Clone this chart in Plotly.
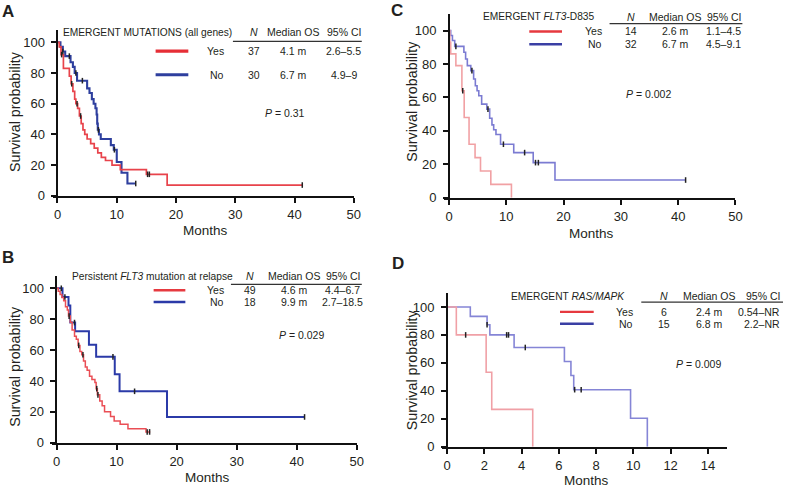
import plotly.graph_objects as go

W, H = 792, 496

# ---------------- data ----------------
# Panel A: EMERGENT MUTATIONS (all genes)
A_yes_t = [0, 0.3, 0.6, 1.0, 2.0, 2.3, 2.6, 2.9, 3.1, 3.4, 3.7, 4.0, 4.3, 4.6, 5.0, 5.6, 6.2, 6.8, 7.4, 8.1, 9.2, 10.6, 15.0, 18.5]
A_yes_s = [100, 97, 92, 83, 78, 73, 68, 63, 60, 57, 52, 47, 43, 40, 37, 34, 31, 28, 25, 23, 20, 17, 14, 7]
A_yes_end = 41.3
A_yes_cens = [0.7, 2.4, 3.3, 3.9, 15.2, 15.5, 41.3]
A_no_t = [0, 0.5, 0.9, 1.3, 2.2, 2.6, 2.9, 3.3, 5.0, 5.4, 5.8, 6.1, 6.4, 6.6, 6.7, 6.8, 7.0, 7.3, 9.0, 9.5, 10.0, 10.8, 11.8]
A_no_s = [100, 97, 94, 91, 87, 84, 80, 75, 70, 67, 63, 60, 57, 53, 47, 43, 40, 37, 33, 30, 22, 15, 8]
A_no_end = 13.2
A_no_cens = [0.9, 2.0, 3.1, 4.2, 6.9, 9.6, 13.2]

# Panel B: Persistent FLT3 mutation at relapse
B_yes_t = [0, 0.3, 0.6, 0.9, 1.2, 1.5, 1.8, 2.0, 2.3, 2.6, 3.0, 3.3, 3.6, 3.9, 4.2, 4.5, 4.8, 5.1, 5.5, 5.9, 6.4, 6.6, 6.8, 7.2, 7.6, 8.0, 9.0, 9.6, 10.6, 11.9, 14.9]
B_yes_s = [100, 98, 96, 94, 92, 88, 86, 82, 78, 73, 69, 67, 63, 59, 57, 53, 49, 47, 43, 41, 39, 35, 31, 27, 24, 20, 17, 14, 12, 9, 7]
B_yes_end = 15.6
B_yes_cens = [2.1, 3.7, 4.4, 6.7, 6.9, 15.1, 15.5]
B_no_t = [0, 1.0, 2.0, 2.3, 3.1, 5.4, 6.6, 9.7, 10.5, 18.4]
B_no_s = [100, 94.4, 88.9, 77.8, 72.2, 63.5, 55.6, 44.4, 33.3, 16.7]
B_no_end = 41.3
B_no_cens = [0.8, 1.4, 3.0, 9.4, 13.0, 41.3]

# Panel C: EMERGENT FLT3-D835
C_yes_t = [0, 0.15, 0.3, 1.2, 2.25, 2.65, 3.5, 4.55, 5.5, 7.3, 10.9]
C_yes_s = [100, 93, 86, 79, 64, 48, 32, 24, 16, 8, 0]
C_yes_end = 10.9
C_yes_cens = [2.4]
C_no_t = [0, 0.3, 0.6, 1.0, 2.6, 2.9, 3.2, 3.8, 4.3, 4.6, 4.9, 5.2, 5.7, 6.6, 7.1, 7.5, 7.8, 8.2, 9.0, 11.3, 14.7, 18.5]
C_no_s = [100, 97, 94, 90.5, 87, 83, 79, 76, 71, 67, 64, 61, 56, 53, 47.5, 43.6, 40.7, 37.8, 32, 27, 21, 10.6]
C_no_end = 41.3
C_no_cens = [0, 1.2, 4.0, 6.8, 9.5, 13.2, 15.1, 15.6, 41.3]

# Panel D: EMERGENT RAS/MAPK
D_yes_t = [0, 0.5, 2.1, 2.4, 4.6]
D_yes_s = [100, 80, 53.3, 26.7, 0]
D_yes_end = 4.6
D_yes_cens = [1.0]
D_no_t = [0, 1.25, 2.15, 2.3, 3.6, 6.3, 6.65, 6.8, 9.85, 10.75]
D_no_s = [100, 93.3, 87.3, 80, 71, 61, 51, 40.8, 20.4, 0]
D_no_end = 10.75
D_no_cens = [0, 2.15, 3.2, 3.3, 4.2, 6.85, 7.2]

# legend table texts
A_rows = [["Yes", "37", "4.1 m", "2.6–5.5"], ["No", "30", "6.7 m", "4.9–9"]]
B_rows = [["Yes", "49", "4.6 m", "4.4–6.7"], ["No", "18", "9.9 m", "2.7–18.5"]]
C_rows = [["Yes", "14", "2.6 m", "1.1–4.5"], ["No", "32", "6.7 m", "4.5–9.1"]]
D_rows = [["Yes", "6", "2.4 m", "0.54–NR"], ["No", "15", "6.8 m", "2.2–NR"]]
P_vals = ["0.31", "0.029", "0.002", "0.009"]

FONT = "Liberation Sans, Arial, Helvetica, sans-serif"
TXT = "#231f20"


def px(x):
    return x / W


def py(y):
    return 1 - y / H


def surv_at(ts, ss, t):
    v = ss[0]
    for ti, si in zip(ts, ss):
        if ti <= t:
            v = si
    return v


fig = go.Figure()

panels = [
    (1, A_yes_t, A_yes_s, A_yes_end, A_yes_cens, A_no_t, A_no_s, A_no_end, A_no_cens, "#e8434b", "#2e3f9e", 1.7, 2.1),
    (2, B_yes_t, B_yes_s, B_yes_end, B_yes_cens, B_no_t, B_no_s, B_no_end, B_no_cens, "#ea4e55", "#2b3aa8", 1.5, 2.0),
    (3, C_yes_t, C_yes_s, C_yes_end, C_yes_cens, C_no_t, C_no_s, C_no_end, C_no_cens, "#f1a1a4", "#7b7bd2", 1.6, 1.6),
    (4, D_yes_t, D_yes_s, D_yes_end, D_yes_cens, D_no_t, D_no_s, D_no_end, D_no_cens, "#f0a0a6", "#8585d6", 1.6, 1.6),
]

for (k, ty, sy, ey, cy, tn, sn, en, cn, red, blue, wr, wb) in panels:
    xa = "x" if k == 1 else f"x{k}"
    ya = "y" if k == 1 else f"y{k}"
    for t, s, e, col, w in [(tn, sn, en, blue, wb), (ty, sy, ey, red, wr)]:
        xs = list(t) + [e]
        ys = list(s) + [s[-1]]
        fig.add_trace(go.Scatter(x=xs, y=ys, mode="lines", line=dict(color=col, width=w, shape="hv"),
                                 xaxis=xa, yaxis=ya, showlegend=False, hoverinfo="skip", cliponaxis=False))
    for t, s, c in [(tn, sn, cn), (ty, sy, cy)]:
        fig.add_trace(go.Scatter(x=c, y=[surv_at(t, s, ci) for ci in c], mode="markers",
                                 marker=dict(symbol="line-ns", size=4, line=dict(color="#222", width=1.5)),
                                 xaxis=xa, yaxis=ya, showlegend=False, hoverinfo="skip", cliponaxis=False))

# axes geometry (pixels): x0 = pixel of x=0, x1 = pixel of x=xmax
geo = {
    1: dict(x0=58, x1=357, yb=199, pp=1.56, ymax=108, xmax=50, xt=list(range(0, 51, 10))),
    2: dict(x0=57, x1=360, yb=450, pp=1.57, ymax=108, xmax=50, xt=list(range(0, 51, 10))),
    3: dict(x0=453, x1=742, yb=201, pp=1.70, ymax=110, xmax=50, xt=list(range(0, 51, 10))),
    4: dict(x0=451, x1=733, yb=454, pp=1.42, ymax=110, xmax=15, xt=list(range(0, 15, 2))),
}
OVER = 5
layout_axes = {}
for k, g in geo.items():
    xn = "xaxis" if k == 1 else f"xaxis{k}"
    yn = "yaxis" if k == 1 else f"yaxis{k}"
    ytop = g["yb"] - g["ymax"] * g["pp"]
    scale = (g["x1"] - g["x0"]) / g["xmax"]
    common = dict(showline=True, linecolor="#111", linewidth=2, ticks="outside", ticklen=5,
                  tickwidth=1.6, tickcolor="#111", showgrid=False, zeroline=False,
                  tickfont=dict(size=13, color=TXT, family=FONT), fixedrange=True)
    layout_axes[xn] = dict(common, domain=[px(g["x0"] - OVER), px(g["x1"])],
                           range=[-OVER / scale, g["xmax"]],
                           tickvals=g["xt"], anchor="y" if k == 1 else f"y{k}", ticklabelstandoff=1)
    layout_axes[yn] = dict(common, domain=[py(g["yb"]), py(ytop)], range=[0, g["ymax"]],
                           tickvals=[0, 20, 40, 60, 80, 100], anchor="free", position=px(g["x0"]),
                           ticklabelstandoff=4)

ann = []
shapes = []


def txt(x, y, s, size=10.5, anchor="center", bold=False, angle=0):
    ann.append(dict(x=px(x), y=py(y), xref="paper", yref="paper", text=(f"<b>{s}</b>" if bold else s),
                    showarrow=False, xanchor=anchor, yanchor="middle", textangle=angle,
                    font=dict(size=size, color=TXT, family=FONT)))


def hline(x0, x1, y, col, w):
    shapes.append(dict(type="line", xref="paper", yref="paper", x0=px(x0), x1=px(x1), y0=py(y), y1=py(y),
                       line=dict(color=col, width=w)))


# panel letters
txt(8, 12, "A", 17, bold=True)
txt(8, 262, "B", 17, bold=True)
txt(401, 11, "C", 17, bold=True)
txt(402, 268, "D", 17, bold=True)

# axis titles
for (x, y) in [(15, 113), (15, 372), (416, 103), (416, 376)]:
    txt(x, y, "Survival probability", 14.3, angle=-90)
for (x, y) in [(207, 234), (209, 485), (597, 237), (592, 488)]:
    txt(x, y, "Months", 13.5)

# legend tables
legends = [
    dict(title="EMERGENT MUTATIONS (all genes)", tx=62, ty=33, cols=[256, 296, 347], ci_right=None,
         hl=(235, 365, 42), key=(157, 190), rows_y=[52, 76], yes_r=228, rows=A_rows, lw=3.2,
         kr="#e62e36", kb="#2e3f9e", p=(288, 115, P_vals[0])),
    dict(title="Persistent <i>FLT3</i> mutation at relapse", tx=71, ty=281, cols=[252, 297, 346], ci_right=None,
         hl=(233, 365, 289), key=(155, 187), rows_y=[295, 307], yes_r=228, rows=B_rows, lw=2.6,
         kr="#e63a40", kb="#2b3aa8", p=(304, 340, P_vals[1])),
    dict(title="EMERGENT <i>FLT3</i>-D835", tx=485, ty=17, cols=[637, 682, 730], ci_right=None,
         hl=(615, 749, 24), key=(534, 567), rows_y=[32, 45], yes_r=609, rows=C_rows, lw=2.4,
         kr="#e6393f", kb="#3a3fa4", p=(654, 96, P_vals[2])),
    dict(title="EMERGENT <i>RAS/MAPK</i>", tx=514, ty=301, cols=[670, 716, 769], ci_right=789,
         hl=(647, 790, 307), key=(565, 599), rows_y=[317, 329], yes_r=641, rows=D_rows, lw=2.4,
         kr="#e6393f", kb="#3a3fa4", p=(705, 370, P_vals[3])),
]
for L in legends:
    txt(L["tx"], L["ty"], L["title"], 10.2, anchor="left")
    for j, (cx, h) in enumerate(zip(L["cols"], ["<i>N</i>", "Median OS", "95% CI"])):
        if j == 2 and L["ci_right"]:
            txt(L["ci_right"], L["ty"], h, 10.5, anchor="right")
        else:
            txt(cx, L["ty"], h, 10.5)
    hline(L["hl"][0], L["hl"][1], L["hl"][2], "#333", 1.3)
    for i, (row, yy) in enumerate(zip(L["rows"], L["rows_y"])):
        kcol = L["kr"] if i == 0 else L["kb"]
        hline(L["key"][0], L["key"][1], yy, kcol, L["lw"])
        txt(L["yes_r"], yy, row[0], 10.5, anchor="right")
        for j, (cx, v) in enumerate(zip(L["cols"], row[1:])):
            if j == 2 and L["ci_right"]:
                txt(L["ci_right"], yy, v, 10.5, anchor="right")
            else:
                txt(cx, yy, v, 10.5)
    px_, py_, pv = L["p"]
    txt(px_, py_, f"<i>P</i> = {pv}", 10.5)

fig.update_layout(width=W, height=H, margin=dict(l=0, r=0, t=0, b=0), paper_bgcolor="white",
                  plot_bgcolor="white", showlegend=False, annotations=ann, shapes=shapes,
                  font=dict(family=FONT, color=TXT), **layout_axes)

fig.write_html("out.html", config={"displayModeBar": False},
               post_script="document.body.style.margin='0';document.body.style.overflow='hidden';")
